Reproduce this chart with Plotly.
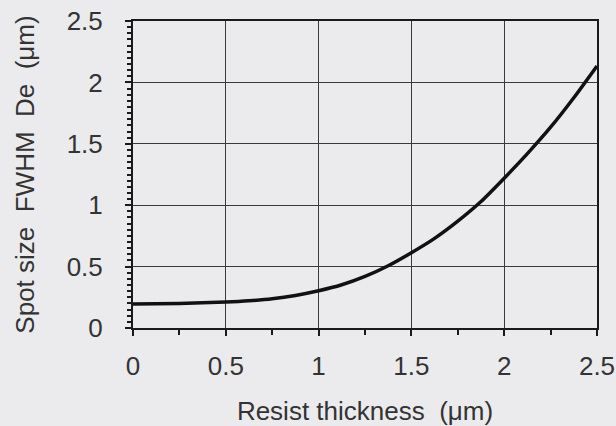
import plotly.graph_objects as go

thickness = [0, 0.25, 0.5, 0.625, 0.75, 0.875, 1.0, 1.125, 1.25, 1.375, 1.5, 1.625, 1.75,
             1.875, 2.0, 2.125, 2.25, 2.375, 2.5]
spot_size = [0.195, 0.2, 0.212, 0.222, 0.238, 0.265, 0.303, 0.352, 0.42, 0.507, 0.613, 0.73, 0.87,
             1.03, 1.22, 1.42, 1.635, 1.875, 2.134]

x_ticks = [0, 0.5, 1, 1.5, 2, 2.5]
x_labels = ["0", "0.5", "1", "1.5", "2", "2.5"]
y_ticks = [0, 0.5, 1, 1.5, 2, 2.5]
y_labels = ["0", "0.5", "1", "1.5", "2", "2.5"]

bg = "#ebebee"
ink = "#333333"

fig = go.Figure()
fig.add_trace(go.Scatter(
    x=thickness, y=spot_size, mode="lines",
    line=dict(color="#111111", width=3.5, shape="spline", smoothing=0.6),
    showlegend=False, hoverinfo="skip",
))

fig.update_layout(
    width=616, height=426,
    margin=dict(l=133, r=19, t=21, b=98),
    paper_bgcolor=bg, plot_bgcolor=bg,
    font=dict(family="Liberation Sans, Arial, sans-serif", color=ink, size=26),
    xaxis=dict(
        range=[0, 2.5], tickvals=x_ticks, ticktext=x_labels,
        showgrid=True, gridcolor="#3a3a3a", gridwidth=1,
        showline=True, linecolor="#1a1a1a", linewidth=2, mirror=True,
        ticks="outside", ticklen=6, tickwidth=2, tickcolor="#1a1a1a",
        minor=dict(dtick=0.25, ticks="outside", ticklen=5, tickwidth=2,
                   tickcolor="#1a1a1a", showgrid=False),
        tickfont=dict(size=26, color=ink), zeroline=False,
        ticklabelstandoff=8, automargin=False,
        title=dict(text="Resist thickness\u00a0\u00a0(μm)", font=dict(size=26, color=ink), standoff=24),
        fixedrange=True,
    ),
    yaxis=dict(
        range=[0, 2.5], tickvals=y_ticks, ticktext=y_labels,
        showgrid=True, gridcolor="#3a3a3a", gridwidth=1,
        showline=True, linecolor="#1a1a1a", linewidth=2, mirror=True,
        ticks="outside", ticklen=6, tickwidth=2, tickcolor="#1a1a1a",
        minor=dict(dtick=0.05, ticks="outside", ticklen=4, tickwidth=1.5,
                   tickcolor="#1a1a1a", showgrid=False),
        tickfont=dict(size=26, color=ink), zeroline=False,
        title=dict(text="Spot size\u00a0\u00a0FWHM\u00a0\u00a0De\u00a0\u00a0(μm)", font=dict(size=26, color=ink), standoff=25),
        ticklabelstandoff=17, automargin=False,
        fixedrange=True,
    ),
)

fig.write_html("out.html")
